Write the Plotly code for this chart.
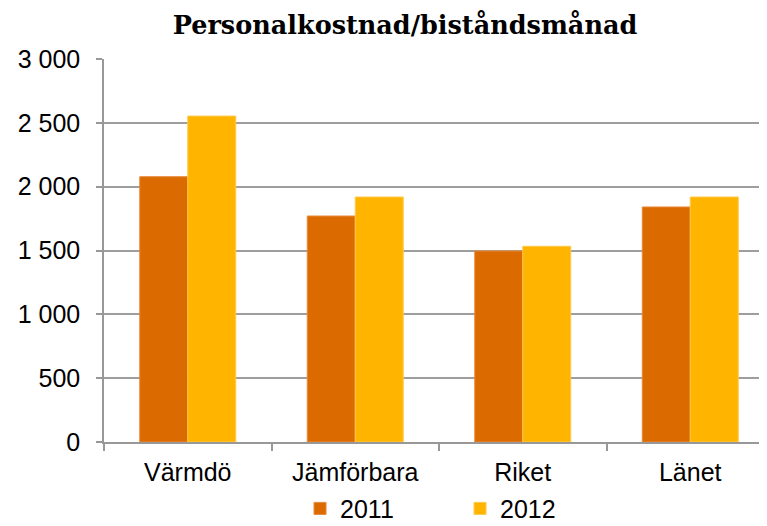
import plotly.graph_objects as go

categories = ["Värmdö", "Jämförbara", "Riket", "Länet"]
values_2011 = [2078, 1770, 1496, 1841]
values_2012 = [2553, 1919, 1533, 1919]
series_names = ["2011", "2012"]
y_ticks = [0, 500, 1000, 1500, 2000, 2500, 3000]

# The page body has an 8px default margin, so the figure is drawn 8px smaller
W, H = 759, 518

fig = go.Figure()
fig.add_trace(go.Bar(x=categories, y=values_2011, name=series_names[0],
                     marker=dict(color="#DB6A00", line=dict(color="#E8893A", width=1))))
fig.add_trace(go.Bar(x=categories, y=values_2012, name=series_names[1],
                     marker=dict(color="#FFB500", line=dict(color="#FFC94A", width=1))))

fig.update_layout(
    width=W, height=H,
    margin=dict(l=96, r=0, t=51, b=84, autoexpand=False),
    paper_bgcolor="white", plot_bgcolor="white",
    barmode="group", bargap=0.427, bargroupgap=0,
    separators=", ",
    font=dict(family="Liberation Sans, Arial, sans-serif", size=25, color="#000000"),
    showlegend=True,
    legend=dict(orientation="h", x=0.537, xanchor="center", y=-0.174, yanchor="middle",
                font=dict(size=25), itemwidth=30, entrywidth=115, entrywidthmode="pixels"),
    title=dict(text="<b>Personalkostnad/biståndsmånad</b>",
               x=397 / W, xanchor="center", xref="container",
               y=1 - 17 / H, yanchor="middle", yref="container",
               font=dict(family="Georgia, DejaVu Serif, serif", size=25.5, color="#000000")),
)

fig.update_xaxes(
    range=[-0.5, 3.5 - 7 / 167.5],
    showline=True, linecolor="#989898", linewidth=1.5,
    ticks="outside", tickson="boundaries", ticklen=7, tickcolor="#989898", tickwidth=1.5,
    showgrid=False, tickfont=dict(size=25), ticklabelstandoff=7,
)
fig.update_yaxes(
    range=[0, 3000], tickvals=y_ticks, tickformat=",",
    showline=True, linecolor="#989898", linewidth=1.5,
    ticks="outside", ticklen=6, tickcolor="#989898", tickwidth=1.5,
    showgrid=True, gridcolor="#9E9E9E", gridwidth=1.5,
    zeroline=False, tickfont=dict(size=25), ticklabelstandoff=11,
)

fig.write_html("out.html")
